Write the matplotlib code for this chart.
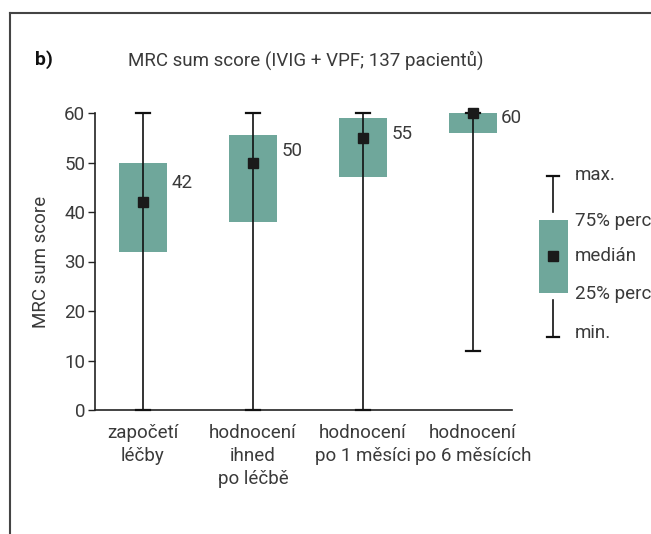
import matplotlib
matplotlib.use("Agg")
import matplotlib.pyplot as plt
from matplotlib.lines import Line2D
from matplotlib.patches import Rectangle

plt.rcParams['font.family'] = ['Roboto', 'DejaVu Sans']
plt.rcParams['font.weight'] = 'normal'

categories = ["započetí\nléčby", "hodnocení\nihned\npo léčbě", "hodnocení\npo 1 měsíci", "hodnocení\npo 6 měsících"]
mins = [0, 0, 0, 12]
q1 = [32, 38, 47, 56]
medians = [42, 50, 55, 60]
q3 = [50, 55.5, 59, 60]
maxs = [60, 60, 60, 60]
yticks = [0, 10, 20, 30, 40, 50, 60]
title = "MRC sum score (IVIG + VPF; 137 pacientů)"
ylabel = "MRC sum score"
legend_labels = ["max.", "75% perc.", "medián", "25% perc.", "min."]

box_color = "#6fa79b"
text_color = "#3a3a3a"
W, H = 651, 534
fig = plt.figure(figsize=(W / 100, H / 100), dpi=100)

def fx(px):
    return px / W

def fy(py):
    return 1 - py / H

ax = fig.add_axes([fx(95), fy(410), fx(512) - fx(95), fy(113) - fy(410)])
xs = list(range(len(categories)))
bw = 0.436
fs = 13.5

for x, lo, a, m, b, hi in zip(xs, mins, q1, medians, q3, maxs):
    ax.add_patch(Rectangle((x - bw / 2, a), bw, b - a, facecolor=box_color, edgecolor='none', zorder=2, clip_on=False))
    ax.plot([x, x], [lo, hi], color='#111111', lw=1.2, zorder=3, clip_on=False)
    for yv in (lo, hi):
        ax.plot([x - 0.06, x + 0.06], [yv, yv], color='#111111', lw=1.6, zorder=3, clip_on=False)
    ax.plot([x], [m], marker='s', markersize=7.5, color='#1a1a1a', zorder=4, clip_on=False)

label_offsets = [-8, -5, -5, 3]  # points below box top
for x, b, m, off in zip(xs, q3, medians, label_offsets):
    ax.annotate(str(m), (x + bw / 2, b), xytext=(3, off), textcoords='offset points',
                ha='left', va='top', fontsize=fs, color=text_color)

ax.set_xlim(-0.436, 3.355)
ax.set_ylim(0, 60)
ax.set_yticks(yticks)
ax.set_yticklabels([str(t) for t in yticks], fontsize=fs, color=text_color)
ax.set_xticks(xs)
ax.set_xticklabels(categories, fontsize=fs, color=text_color, linespacing=1.35)
ax.tick_params(axis='x', length=0, pad=10)
ax.tick_params(axis='y', length=5, width=1, color='#222222', pad=2)
for s in ('top', 'right'):
    ax.spines[s].set_visible(False)
for s in ('left', 'bottom'):
    ax.spines[s].set_color('#222222')
    ax.spines[s].set_linewidth(1.2)
ax.set_facecolor('none')
ax.set_ylabel(ylabel, fontsize=fs, color=text_color, labelpad=10)

# titles
fig.text(fx(35), fy(60), "b)", fontsize=14, fontweight='bold', color='#111111', va='center')
fig.text(fx(128), fy(60), title, fontsize=fs, color=text_color, va='center')

# frame
fig.add_artist(Line2D([fx(10), 1], [fy(13), fy(13)], color='#444444', lw=1.5))
fig.add_artist(Line2D([fx(10), fx(10)], [fy(13), 0], color='#444444', lw=1.5))

# legend key
lx = 553
fig.add_artist(Line2D([fx(lx), fx(lx)], [fy(176), fy(212)], color='#111111', lw=1.2))
fig.add_artist(Line2D([fx(lx - 6), fx(lx + 6)], [fy(176), fy(176)], color='#111111', lw=1.6))
fig.add_artist(Line2D([fx(lx), fx(lx)], [fy(300), fy(337)], color='#111111', lw=1.2))
fig.add_artist(Line2D([fx(lx - 6), fx(lx + 6)], [fy(337), fy(337)], color='#111111', lw=1.6))
fig.add_artist(Rectangle((fx(539), fy(293)), fx(568) - fx(539), fy(220) - fy(293), facecolor=box_color, edgecolor='none'))
fig.add_artist(Line2D([fx(lx)], [fy(256)], marker='s', markersize=7.5, color='#1a1a1a'))
for lab, py in zip(legend_labels, [175, 221, 256, 294, 333]):
    fig.text(fx(575), fy(py), lab, fontsize=fs, color=text_color, va='center')

fig.savefig("out.png", dpi=100)
